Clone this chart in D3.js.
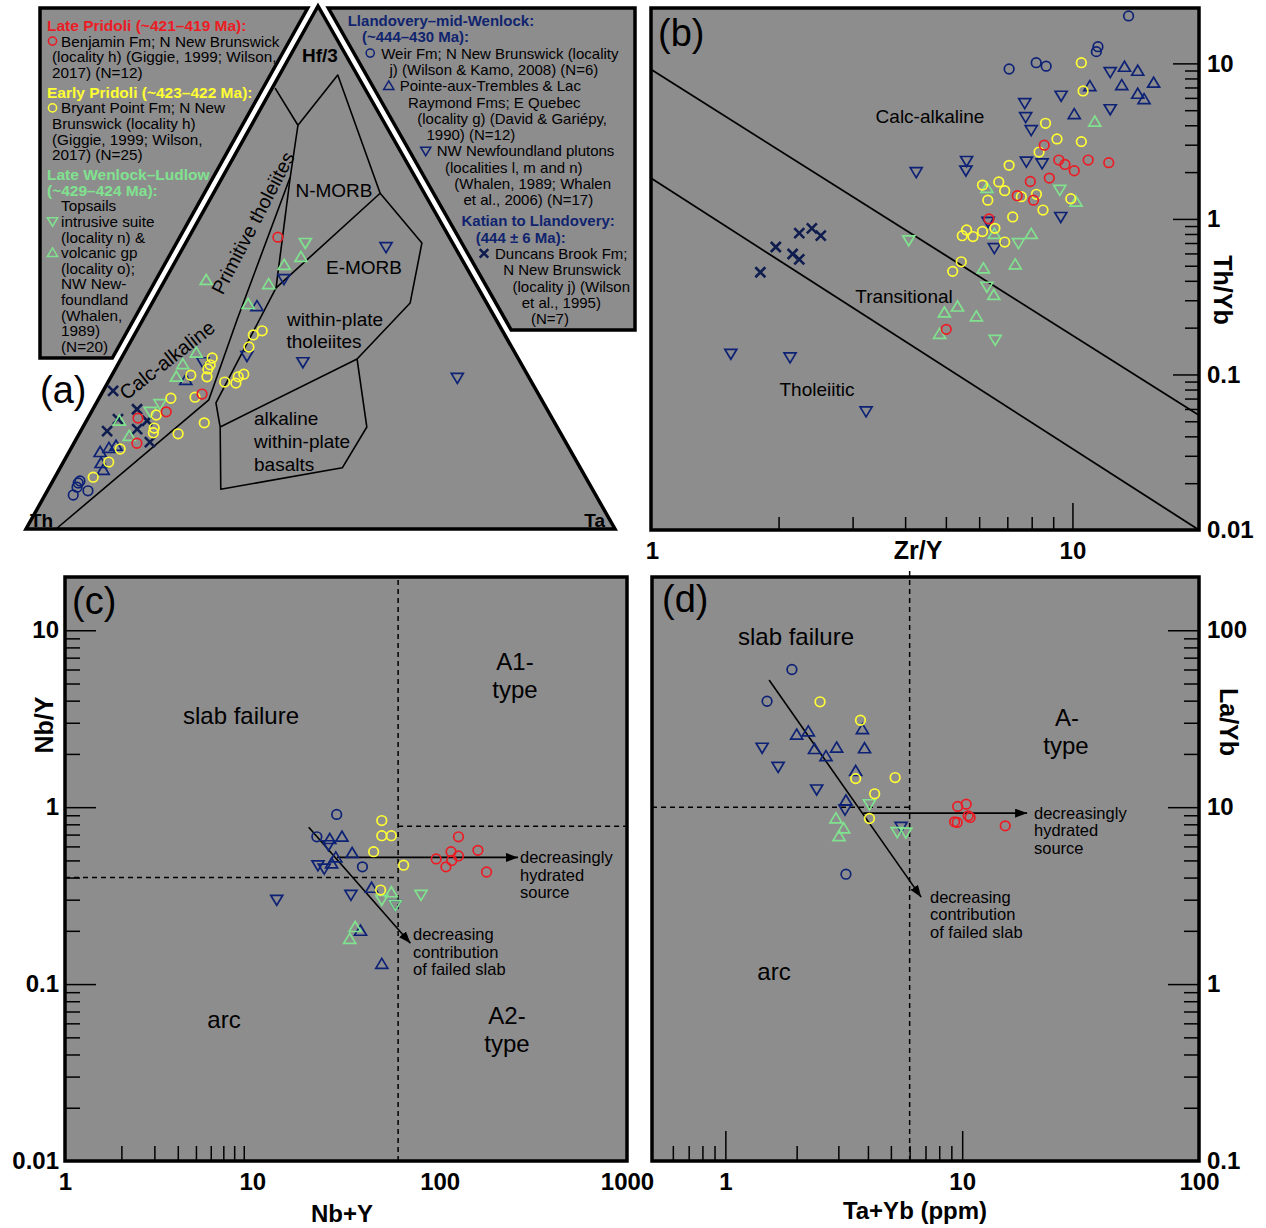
<!DOCTYPE html>
<html>
<head>
<meta charset="utf-8">
<script src="https://cdn.jsdelivr.net/npm/d3@7"></script>
<style>
  body { margin: 0; background: #fff; }
</style>
</head>
<body>
<div id="chart"></div>
<script>
// ---------- (a) Th - Hf/3 - Ta, every point is [Th, Hf/3, Ta] (fractions)
var aBenjamin = [[0.291,0.558,0.151],[0.571,0.258,0.171],[0.649,0.224,0.127],[0.703,0.212,0.085],[0.729,0.164,0.107]];
var aBryant = [[0.408,0.379,0.213],[0.427,0.371,0.202],[0.446,0.348,0.206],[0.481,0.296,0.223],[0.493,0.291,0.216],
  [0.503,0.279,0.218],[0.521,0.281,0.198],[0.519,0.327,0.154],[0.529,0.314,0.157],[0.537,0.306,0.157],
  [0.546,0.291,0.163],[0.572,0.294,0.134],[0.586,0.252,0.162],[0.595,0.203,0.202],[0.650,0.182,0.168],
  [0.628,0.250,0.122],[0.669,0.218,0.113],[0.685,0.193,0.122],[0.691,0.184,0.125],[0.763,0.153,0.084],
  [0.795,0.128,0.077],[0.836,0.099,0.065]];
var aTopsailsIntr = [[0.250,0.547,0.203],[0.652,0.239,0.109],[0.676,0.224,0.100]];
var aTopsailsVolc = [[0.454,0.476,0.070],[0.352,0.468,0.180],[0.307,0.505,0.188],[0.271,0.520,0.209],[0.406,0.430,0.164],
  [0.541,0.337,0.122],[0.575,0.315,0.110],[0.598,0.291,0.111],[0.737,0.207,0.056],[0.735,0.178,0.087]];
var aWeir = [[0.867,0.088,0.045],[0.873,0.080,0.047],[0.887,0.065,0.048],[0.858,0.073,0.069],[0.862,0.092,0.046]];
var aPointe = [[0.800,0.147,0.053],[0.781,0.155,0.064],[0.767,0.159,0.074],[0.809,0.126,0.065],[0.812,0.113,0.075],
  [0.585,0.285,0.130],[0.393,0.426,0.181]];
var aNwNfld = [[0.539,0.319,0.142],[0.458,0.331,0.211],[0.369,0.319,0.312],[0.321,0.478,0.201],[0.117,0.539,0.344],[0.122,0.289,0.589]];
var aDuncans = [[0.719,0.264,0.017],[0.696,0.229,0.075],[0.738,0.210,0.052],[0.768,0.187,0.045],[0.715,0.191,0.094],
  [0.690,0.207,0.103],[0.706,0.166,0.128]];

// field boundaries of the ternary, [Th, Hf/3, Ta]
var fieldLines = [
  [[0.949,0,0.051],[0.565,0.247,0.188],[0.440,0.400,0.160],[0.212,0.673,0.115],[0.149,0.772,0.079],[0.152,0.843,0.005]],
  [[0.149,0.772,0.079],[0.033,0.868,0.099],[0.075,0.642,0.283],[0.343,0.461,0.196]],
  [[0.212,0.673,0.115],[0.343,0.461,0.196]],
  [[0.343,0.461,0.196],[0.556,0.241,0.203],[0.572,0.195,0.233],[0.631,0.076,0.293],[0.404,0.117,0.479],
   [0.323,0.195,0.482],[0.274,0.325,0.401],[0.572,0.195,0.233]],
  [[0.075,0.642,0.283],[0.052,0.547,0.401],[0.130,0.432,0.438],[0.274,0.325,0.401]]
];

// ---------- (b) [Zr/Y, Th/Yb]
var bBenjamin = [[8.57,2.98],[9.28,2.39],[9.6,2.24],[10.1,2.04],[10.9,2.39],[12.2,2.3],[7.94,1.74],[8.81,1.83],
  [7.39,1.41],[8.08,1.32],[6.33,1.0],[5.01,0.195]];
var bBryant = [[10.5,10.1],[10.6,6.65],[8.63,4.12],[9.19,3.27],[10.5,3.14],[8.33,2.69],[7.07,2.21],[6.11,1.65],
  [6.68,1.73],[6.9,1.52],[6.29,1.32],[7.56,1.39],[8.21,1.44],[9.91,1.35],[8.51,1.14],[7.21,1.03],[5.47,0.78],
  [5.6,0.85],[5.8,0.77],[6.11,0.83],[6.54,0.87],[6.9,0.71],[5.44,0.53],[5.19,0.46]];
var bTopsailsIntr = [[9.33,1.54],[4.08,0.73],[7.44,0.70],[6.26,0.367],[6.55,0.167]];
var bTopsailsVolc = [[11.3,4.22],[10.2,1.29],[6.26,1.58],[6.52,0.80],[7.98,0.80],[6.14,0.48],[7.31,0.51],
  [6.50,0.324],[5.33,0.273],[4.96,0.25],[5.91,0.236],[4.83,0.182]];
var bWeir = [[13.6,20.2],[11.5,12.8],[11.4,11.9],[7.07,9.2],[8.2,10.1],[8.66,9.6]];
var bPointe = [[13.3,9.5],[14.3,8.95],[15.6,7.5],[13.1,7.24],[11.0,7.13],[14.3,6.37],[14.8,5.88],[10.1,4.71]];
var bNwNfld = [[12.3,8.8],[9.4,6.2],[12.3,5.08],[7.7,5.56],[7.74,4.52],[7.98,3.73],[7.77,2.34],[8.47,2.28],
  [5.6,2.36],[5.58,2.05],[4.25,2.0],[9.38,1.03],[6.3,0.96],[6.52,0.65],[1.54,0.136],[2.13,0.129],[3.23,0.058]];
var bDuncans = [[1.81,0.454],[1.97,0.66],[2.16,0.595],[2.24,0.55],[2.24,0.81],[2.40,0.87],[2.52,0.78]];
var bBounds = [[[1,9.06],[20,0.0547]], [[1,1.81],[20,0.01]]];

// ---------- (c) [Nb+Y, Nb/Y]
var cBenjamin = [[126,0.68],[160,0.57],[95.8,0.51],[115,0.56],[126,0.53],[116,0.50],[108,0.46],[178,0.43]];
var cBryant = [[49.1,0.84],[49.1,0.69],[55.2,0.69],[44.4,0.56],[64.2,0.47],[48.4,0.34]];
var cTopsailsIntr = [[79.5,0.32],[49.1,0.30],[58.0,0.28]];
var cTopsailsVolc = [[55.2,0.33],[35.4,0.21],[33.1,0.18]];
var cWeir = [[28.2,0.91],[22.1,0.68],[38.7,0.46]];
var cPointe = [[25.9,0.66],[30.1,0.68],[34.1,0.55],[27.9,0.52],[26.5,0.48],[43.3,0.35],[37.8,0.20],[49.1,0.13]];
var cNwNfld = [[25.5,0.61],[22.4,0.47],[24.2,0.45],[13.5,0.30],[33.6,0.32],[58.0,0.28]];
var cArrows = [[[20,0.77],[69.8,0.17]], [[28.3,0.52],[262,0.52]]];
var cDivX = 60, cDivYLeft = 0.4, cDivYRight = 0.78;

// ---------- (d) [Ta+Yb, La/Yb]
var dBenjamin = [[9.57,10.1],[10.4,10.4],[10.6,8.93],[10.8,8.75],[9.29,8.26],[9.53,8.2],[15.2,7.84]];
var dBryant = [[2.51,39.4],[3.72,31.0],[5.21,14.7],[3.55,14.5],[4.27,11.9],[4.06,8.63]];
var dTopsailsIntr = [[4.06,10.4],[5.32,7.24],[5.78,7.19]];
var dTopsailsVolc = [[2.93,8.63],[3.16,7.58],[3.02,6.86]];
var dWeir = [[1.91,60],[1.50,39.7],[3.23,4.18]];
var dPointe = [[2.24,26.8],[2.0,25.7],[2.38,21.3],[2.95,21.7],[2.66,19.4],[3.79,27.6],[3.87,21.5],[3.55,16.0],[3.23,10.9]];
var dNwNfld = [[1.43,21.7],[1.67,16.9],[2.43,12.6],[3.20,9.7],[5.52,7.74]];
var dArrows = [[[1.53,52.3],[6.71,3.1]], [[3.82,9.25],[18.8,9.25]]];
var dDivX = 6, dDivY = 10;

// ---------- legend text of (a)
var legendLeft = [
  ["title", "Late Pridoli (~421\u2013419 Ma):", "benjamin"],
  ["item", "Benjamin Fm; N New Brunswick", "benjamin"],
  ["more", "(locality h) (Giggie, 1999; Wilson,"],
  ["more", "2017) (N=12)"],
  ["title", "Early Pridoli (~423\u2013422 Ma):", "bryant"],
  ["item", "Bryant Point Fm; N New", "bryant"],
  ["more", "Brunswick (locality h)"],
  ["more", "(Giggie, 1999; Wilson,"],
  ["more", "2017) (N=25)"],
  ["title", "Late Wenlock\u2013Ludlow", "topsailsIntr"],
  ["title", "(~429\u2013424 Ma):", "topsailsIntr"],
  ["moreIn", "Topsails"],
  ["item", "intrusive suite", "topsailsIntr"],
  ["moreIn", "(locality n) &"],
  ["item", "volcanic gp", "topsailsVolc"],
  ["moreIn", "(locality o);"],
  ["moreIn", "NW New-"],
  ["moreIn", "foundland"],
  ["moreIn", "(Whalen,"],
  ["moreIn", "1989)"],
  ["moreIn", "(N=20)"]
];
var legendRight = [
  ["title", "Llandovery\u2013mid-Wenlock:"],
  ["title2", "(~444\u2013430 Ma):"],
  ["item", "Weir Fm; N New Brunswick (locality", "weir"],
  ["more", "j) (Wilson & Kamo, 2008) (N=6)"],
  ["item", "Pointe-aux-Trembles & Lac", "pointe"],
  ["more", "Raymond Fms; E Quebec"],
  ["more", "(locality g) (David & Gari\u00e9py,"],
  ["more", "1990) (N=12)"],
  ["item", "NW Newfoundland plutons", "nwNfld"],
  ["more", "(localities l, m and n)"],
  ["more", "(Whalen, 1989; Whalen"],
  ["more", "et al., 2006) (N=17)"],
  ["title", "Katian to Llandovery:"],
  ["title2", "(444 \u00b1 6 Ma):"],
  ["item", "Duncans Brook Fm;", "duncans"],
  ["more", "N New Brunswick"],
  ["more", "(locality j) (Wilson"],
  ["more", "et al., 1995)"],
  ["more", "(N=7)"]
];

// ---------- styles
var FONT = "'Liberation Sans', Arial, Helvetica, sans-serif";
var BG = "#8e8d8e";
var NAVYTXT = "#10246e";
var styles = {
  benjamin:     { shape: "circle", color: "#ec1c24" },
  bryant:       { shape: "circle", color: "#ffff33" },
  topsailsIntr: { shape: "down",   color: "#80e28e" },
  topsailsVolc: { shape: "up",     color: "#80e28e" },
  weir:         { shape: "circle", color: "#0d2275" },
  pointe:       { shape: "up",     color: "#0d2275" },
  nwNfld:       { shape: "down",   color: "#0d2275" },
  duncans:      { shape: "x",      color: "#0f1d4e" }
};
var order = ["nwNfld", "pointe", "weir", "duncans", "topsailsVolc", "topsailsIntr", "bryant", "benjamin"];
var shapePath = {
  circle: "M-4.8,0A4.8,4.8 0 1,0 4.8,0A4.8,4.8 0 1,0 -4.8,0Z",
  up: "M0,-5.6L6,4.4L-6,4.4Z",
  down: "M0,5.6L6,-4.4L-6,-4.4Z",
  x: "M-5,-5L5,5M5,-5L-5,5"
};

var svg = d3.select("#chart").append("svg")
  .attr("width", 1266).attr("height", 1228)
  .attr("font-family", FONT);

svg.append("defs").append("marker")
  .attr("id", "arrow").attr("viewBox", "0 0 12 9")
  .attr("refX", 12).attr("refY", 4.5)
  .attr("markerWidth", 12).attr("markerHeight", 9)
  .attr("markerUnits", "userSpaceOnUse").attr("orient", "auto")
  .append("path").attr("d", "M0,0L12,4.5L0,9Z").attr("fill", "#000");

function addPoints(g, table, px, py) {
  order.forEach(function(key) {
    var pts = table[key];
    if (!pts) return;
    var st = styles[key];
    g.selectAll(null).data(pts).enter().append("path")
      .attr("d", shapePath[st.shape])
      .attr("transform", function(d) { return "translate(" + px(d) + "," + py(d) + ")"; })
      .attr("fill", "none")
      .attr("stroke", st.color)
      .attr("stroke-width", st.shape === "x" ? 2.6 : 1.7);
  });
}

function label(g, x, y, str, size, o) {
  o = o || {};
  var t = g.append("text").attr("x", x).attr("y", y).text(str)
    .attr("font-size", size).attr("fill", o.fill || "#000")
    .attr("text-anchor", o.anchor || "middle");
  if (o.bold) t.attr("font-weight", "bold");
  if (o.rotate != null) t.attr("transform", "rotate(" + o.rotate + "," + x + "," + y + ")");
  if (o.dy) t.attr("dy", o.dy);
  return t;
}

function ticksOnly(g, axisFn, scale, values, size) {
  g.call(axisFn(scale).tickValues(values).tickSize(size).tickSizeOuter(0).tickFormat(""));
  g.select(".domain").remove();
  g.selectAll(".tick line").attr("stroke", "#000").attr("stroke-width", 1.5);
}

function labelsOnly(g, axisFn, scale, values, pad) {
  g.call(axisFn(scale).tickValues(values).tickSize(0).tickSizeOuter(0).tickPadding(pad)
    .tickFormat(function(d) { return String(d); }));
  g.select(".domain").remove();
  g.selectAll(".tick line").remove();
  g.attr("font-size", 24).attr("font-family", FONT).attr("font-weight", "bold");
  g.selectAll("text").attr("fill", "#000");
}

function isPow10(v) { var l = Math.log10(v); return Math.abs(l - Math.round(l)) < 1e-9; }

function frameRect(g, x0, y0, x1, y1, filled) {
  return g.append("rect").attr("x", x0).attr("y", y0).attr("width", x1 - x0).attr("height", y1 - y0)
    .attr("fill", filled ? BG : "none").attr("stroke", filled ? "none" : "#000").attr("stroke-width", 3.5);
}

function lineOf(px, py) { return d3.line().x(px).y(py); }

// =============== (a) ternary
var ga = svg.append("g");
var triA = [318, 6], triB = [26, 529], triC = [615, 529];   // Hf/3, Th, Ta corners
var hfScale = d3.scaleLinear().domain([0, 1]).range([triB[1], triA[1]]);
var taScale = d3.scaleLinear().domain([0, 1]).range([0, triC[0] - triB[0]]);
function tx(d) { var s = d[0] + d[1] + d[2]; return triB[0] + taScale(d[2] / s) + (d[1] / s) * (triA[0] - triB[0]); }
function ty(d) { var s = d[0] + d[1] + d[2]; return hfScale(d[1] / s); }

// x of a line parallel to a triangle side, shifted outwards by off
function edgeXAt(p0, p1, off, side, y) {
  var dx = p1[0] - p0[0], dy = p1[1] - p0[1], L = Math.hypot(dx, dy);
  var ox = p0[0] + off * side * (-dy) / L, oy = p0[1] + off * side * dx / L;
  return ox + (y - oy) * dx / dy;
}
function leftEdgeX(y) { return edgeXAt(triA, triB, 8, 1, y); }
function rightEdgeX(y) { return edgeXAt(triA, triC, 8, -1, y); }

var boxL = [[40, 8], [leftEdgeX(8), 8], [leftEdgeX(358), 358], [40, 358]];
var boxR = [[rightEdgeX(8), 8], [635, 8], [635, 330], [rightEdgeX(330), 330]];
[boxL, boxR].forEach(function(p) {
  ga.append("path").attr("d", "M" + p.join("L") + "Z")
    .attr("fill", BG).attr("stroke", "#000").attr("stroke-width", 3.5).attr("stroke-linejoin", "miter");
});
ga.append("path").attr("d", "M" + [triA, triB, triC].join("L") + "Z")
  .attr("fill", BG).attr("stroke", "#000").attr("stroke-width", 3.5);

var tline = lineOf(tx, ty);
ga.selectAll(null).data(fieldLines).enter().append("path")
  .attr("d", tline).attr("fill", "none").attr("stroke", "#000").attr("stroke-width", 1.6)
  .attr("stroke-linejoin", "round");

label(ga, 320, 62, "Hf/3", 19, { bold: true });
label(ga, 30, 527, "Th", 19, { bold: true, anchor: "start" });
label(ga, 605, 527, "Ta", 19, { bold: true, anchor: "end" });
label(ga, 334, 197, "N-MORB", 19);
label(ga, 364, 274, "E-MORB", 19);
label(ga, 335, 326, "within-plate", 19);
label(ga, 324, 348, "tholeiites", 19);
label(ga, 254, 425, "alkaline", 19, { anchor: "start" });
label(ga, 254, 448, "within-plate", 19, { anchor: "start" });
label(ga, 254, 471, "basalts", 19, { anchor: "start" });
label(ga, 253, 223, "Primitive tholeiites", 19.5, { rotate: -62.5, dy: "0.35em" });
label(ga, 167, 360, "Calc-alkaline", 20, { rotate: -38, dy: "0.35em" });
label(ga, 40, 403, "(a)", 38, { anchor: "start" });

addPoints(ga, { benjamin: aBenjamin, bryant: aBryant, topsailsIntr: aTopsailsIntr, topsailsVolc: aTopsailsVolc,
  weir: aWeir, pointe: aPointe, nwNfld: aNwNfld, duncans: aDuncans }, tx, ty);

// legend in (a)
function legendMarker(g, key, x, y) {
  var st = styles[key];
  g.append("path").attr("d", shapePath[st.shape])
    .attr("transform", "translate(" + x + "," + y + ") scale(0.85)")
    .attr("fill", "none").attr("stroke", st.color).attr("stroke-width", st.shape === "x" ? 3 : 1.8);
}

var yL = 31;
legendLeft.forEach(function(row, i) {
  if (i > 0) yL += (row[0] === "title" && legendLeft[i - 1][0] !== "title") ? 20 : 15.6;
  var kind = row[0];
  if (kind === "title") {
    label(ga, 47, yL, row[1], 15.5, { anchor: "start", bold: true, fill: styles[row[2]].color });
  } else if (kind === "item") {
    legendMarker(ga, row[2], 52.5, yL - 5.5);
    label(ga, 61, yL, row[1], 15.3, { anchor: "start" });
  } else {
    label(ga, kind === "moreIn" ? 61 : 52, yL, row[1], 15.3, { anchor: "start" });
  }
});

var yR = 26;
legendRight.forEach(function(row, i) {
  if (i > 0) yR += (row[0] === "title" && legendRight[i - 1][0] !== "title2") ? 21 : 16.3;
  var kind = row[0], e = rightEdgeX(yR - 5);
  if (kind === "title" || kind === "title2") {
    label(ga, e + (kind === "title" ? 12 : 17), yR, row[1], 15, { anchor: "start", bold: true, fill: NAVYTXT });
  } else if (kind === "item") {
    legendMarker(ga, row[2], e + 16, yR - 5.5);
    label(ga, e + 27, yR, row[1], 15, { anchor: "start" });
  } else {
    label(ga, e + 26, yR, row[1], 15, { anchor: "start" });
  }
});

// =============== (b) Zr/Y vs Th/Yb
var gb = svg.append("g");
var bx = d3.scaleLog().domain([1, 20]).range([652, 1199]);
var by = d3.scaleLog().domain([0.01, 22.7]).range([530, 8]);
frameRect(gb, 651, 8, 1199, 530, true);
gb.selectAll(null).data(bBounds).enter().append("path")
  .attr("d", lineOf(function(d) { return bx(d[0]); }, function(d) { return by(d[1]); }))
  .attr("fill", "none").attr("stroke", "#000").attr("stroke-width", 1.8);

var byAll = by.ticks().filter(function(v) { return v > 0.011 && v < 10.5; });
ticksOnly(gb.append("g").attr("transform", "translate(1199,0)"), d3.axisLeft, by, byAll.filter(function(v) { return !isPow10(v); }), 14);
ticksOnly(gb.append("g").attr("transform", "translate(1199,0)"), d3.axisLeft, by, byAll.filter(isPow10), 26);
var bxAll = bx.ticks().filter(function(v) { return v > 1.5 && v < 10.5; });
ticksOnly(gb.append("g").attr("transform", "translate(0,530)"), d3.axisTop, bx, bxAll.filter(function(v) { return !isPow10(v); }), 13);
ticksOnly(gb.append("g").attr("transform", "translate(0,530)"), d3.axisTop, bx, [10], 27);
labelsOnly(gb.append("g").attr("transform", "translate(1199,0)"), d3.axisRight, by, [0.01, 0.1, 1, 10], 8);
labelsOnly(gb.append("g").attr("transform", "translate(0,530)"), d3.axisBottom, bx, [1, 10], 12);

label(gb, 930, 123, "Calc-alkaline", 19);
label(gb, 904, 303, "Transitional", 19);
label(gb, 817, 396, "Tholeiitic", 19);
label(gb, 658, 46, "(b)", 38, { anchor: "start" });
label(gb, 918, 559, "Zr/Y", 25, { bold: true });
label(gb, 1223, 290, "Th/Yb", 25, { bold: true, rotate: 90, dy: "0.35em" });

addPoints(gb, { benjamin: bBenjamin, bryant: bBryant, topsailsIntr: bTopsailsIntr, topsailsVolc: bTopsailsVolc,
  weir: bWeir, pointe: bPointe, nwNfld: bNwNfld, duncans: bDuncans },
  function(d) { return bx(d[0]); }, function(d) { return by(d[1]); });
frameRect(gb, 651, 8, 1199, 530, false);

// =============== (c) Nb+Y vs Nb/Y
var gc = svg.append("g");
var cx = d3.scaleLog().domain([1, 1000]).range([65, 627]);
var cy = d3.scaleLog().domain([0.01, 20]).range([1161, 577]);
frameRect(gc, 65, 577, 627, 1161, true);
var dash = "5,4";
gc.append("line").attr("x1", cx(cDivX)).attr("x2", cx(cDivX)).attr("y1", cy(0.01)).attr("y2", cy(20))
  .attr("stroke", "#000").attr("stroke-width", 1.5).attr("stroke-dasharray", dash);
gc.append("line").attr("x1", cx(1)).attr("x2", cx(cDivX)).attr("y1", cy(cDivYLeft)).attr("y2", cy(cDivYLeft))
  .attr("stroke", "#000").attr("stroke-width", 1.5).attr("stroke-dasharray", dash);
gc.append("line").attr("x1", cx(cDivX)).attr("x2", cx(1000)).attr("y1", cy(cDivYRight)).attr("y2", cy(cDivYRight))
  .attr("stroke", "#000").attr("stroke-width", 1.5).attr("stroke-dasharray", dash);

var cyAll = cy.ticks().filter(function(v) { return v > 0.011 && v < 10.5; });
ticksOnly(gc.append("g").attr("transform", "translate(65,0)"), d3.axisRight, cy, cyAll.filter(function(v) { return !isPow10(v); }), 15);
ticksOnly(gc.append("g").attr("transform", "translate(65,0)"), d3.axisRight, cy, [0.1, 1, 10], 31);
ticksOnly(gc.append("g").attr("transform", "translate(0,1161)"), d3.axisTop, cx,
  cx.ticks().filter(function(v) { return v > 1.5 && v < 9.5; }), 15);
labelsOnly(gc.append("g").attr("transform", "translate(65,0)"), d3.axisLeft, cy, [0.01, 0.1, 1, 10], 6);
labelsOnly(gc.append("g").attr("transform", "translate(0,1161)"), d3.axisBottom, cx, [1, 10, 100, 1000], 12);

var cpx = function(d) { return cx(d[0]); }, cpy = function(d) { return cy(d[1]); };
gc.selectAll(null).data(cArrows).enter().append("path")
  .attr("d", lineOf(cpx, cpy)).attr("fill", "none").attr("stroke", "#000").attr("stroke-width", 1.6)
  .attr("marker-end", "url(#arrow)");

label(gc, 72, 614, "(c)", 38, { anchor: "start" });
label(gc, 241, 724, "slab failure", 24);
label(gc, 515, 670, "A1-", 24);
label(gc, 515, 698, "type", 24);
label(gc, 224, 1028, "arc", 24);
label(gc, 507, 1024, "A2-", 24);
label(gc, 507, 1052, "type", 24);
["decreasingly", "hydrated", "source"].forEach(function(s, i) { label(gc, 520, 863 + i * 17.5, s, 16.5, { anchor: "start" }); });
["decreasing", "contribution", "of failed slab"].forEach(function(s, i) { label(gc, 413, 940 + i * 17.5, s, 16.5, { anchor: "start" }); });
label(gc, 342, 1222, "Nb+Y", 24, { bold: true });
label(gc, 44, 725, "Nb/Y", 25, { bold: true, rotate: -90, dy: "0.35em" });

addPoints(gc, { benjamin: cBenjamin, bryant: cBryant, topsailsIntr: cTopsailsIntr, topsailsVolc: cTopsailsVolc,
  weir: cWeir, pointe: cPointe, nwNfld: cNwNfld }, cpx, cpy);
frameRect(gc, 65, 577, 627, 1161, false);

// =============== (d) Ta+Yb vs La/Yb
var gd = svg.append("g");
var dx = d3.scaleLog().domain([0.49, 100]).range([652, 1199]);
var dy = d3.scaleLog().domain([0.1, 200]).range([1161, 577]);
frameRect(gd, 652, 577, 1199, 1161, true);
gd.append("line").attr("x1", dx(dDivX)).attr("x2", dx(dDivX)).attr("y1", dy(0.1)).attr("y2", dy(200) - 7)
  .attr("stroke", "#000").attr("stroke-width", 1.5).attr("stroke-dasharray", dash);
gd.append("line").attr("x1", dx(0.49)).attr("x2", dx(dDivX)).attr("y1", dy(dDivY)).attr("y2", dy(dDivY))
  .attr("stroke", "#000").attr("stroke-width", 1.5).attr("stroke-dasharray", dash);

var dyAll = dy.ticks().filter(function(v) { return v > 0.11 && v < 150; });
ticksOnly(gd.append("g").attr("transform", "translate(1199,0)"), d3.axisLeft, dy, dyAll.filter(function(v) { return !isPow10(v); }), 15);
ticksOnly(gd.append("g").attr("transform", "translate(1199,0)"), d3.axisLeft, dy, [1, 10, 100], 31);
var dxAll = dx.ticks().filter(function(v) { return v > 0.55 && v < 10.5; });
ticksOnly(gd.append("g").attr("transform", "translate(0,1161)"), d3.axisTop, dx, dxAll.filter(function(v) { return !isPow10(v); }), 15);
ticksOnly(gd.append("g").attr("transform", "translate(0,1161)"), d3.axisTop, dx, [1, 10], 30);
labelsOnly(gd.append("g").attr("transform", "translate(1199,0)"), d3.axisRight, dy, [0.1, 1, 10, 100], 8);
labelsOnly(gd.append("g").attr("transform", "translate(0,1161)"), d3.axisBottom, dx, [1, 10, 100], 12);

var dpx = function(d) { return dx(d[0]); }, dpy = function(d) { return dy(d[1]); };
gd.selectAll(null).data(dArrows).enter().append("path")
  .attr("d", lineOf(dpx, dpy)).attr("fill", "none").attr("stroke", "#000").attr("stroke-width", 1.6)
  .attr("marker-end", "url(#arrow)");

label(gd, 662, 612, "(d)", 38, { anchor: "start" });
label(gd, 796, 645, "slab failure", 24);
label(gd, 1067, 726, "A-", 24);
label(gd, 1066, 754, "type", 24);
label(gd, 774, 980, "arc", 24);
["decreasingly", "hydrated", "source"].forEach(function(s, i) { label(gd, 1034, 819 + i * 17.3, s, 16.5, { anchor: "start" }); });
["decreasing", "contribution", "of failed slab"].forEach(function(s, i) { label(gd, 930, 903 + i * 17.3, s, 16.5, { anchor: "start" }); });
label(gd, 915, 1219, "Ta+Yb (ppm)", 24, { bold: true });
label(gd, 1229, 722, "La/Yb", 25, { bold: true, rotate: 90, dy: "0.35em" });

addPoints(gd, { benjamin: dBenjamin, bryant: dBryant, topsailsIntr: dTopsailsIntr, topsailsVolc: dTopsailsVolc,
  weir: dWeir, pointe: dPointe, nwNfld: dNwNfld }, dpx, dpy);
frameRect(gd, 652, 577, 1199, 1161, false);
</script>
</body>
</html>
